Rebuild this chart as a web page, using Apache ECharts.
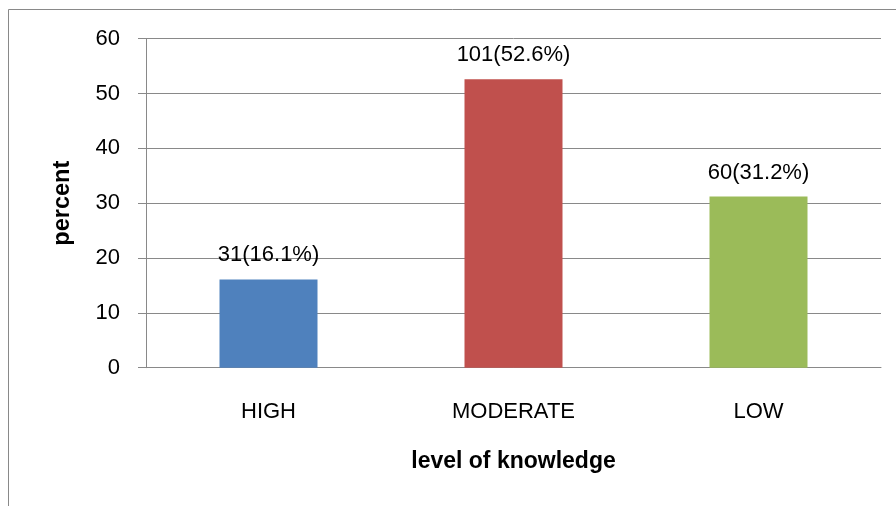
<!DOCTYPE html>
<html>
<head>
<meta charset="utf-8">
<script src="https://cdn.jsdelivr.net/npm/echarts@6/dist/echarts.min.js"></script>
<style>
html,body{margin:0;padding:0;background:#fff;}
#c{width:896px;height:506px;}
</style>
</head>
<body>
<div id="c"></div>
<script>
const categories = ['HIGH', 'MODERATE', 'LOW'];
const percents = [16.1, 52.6, 31.2];
const counts = [31, 101, 60];
const colors = ['#4F81BD', '#C0504D', '#9BBB59'];
const yTicks = { min: 0, max: 60, interval: 10 };

const chart = echarts.init(document.getElementById('c'), null, { renderer: 'canvas' });
const FONT = '"Liberation Sans", Arial, sans-serif';
const GRAY = '#898989';

chart.setOption({
  animation: false,
  backgroundColor: '#ffffff',
  graphic: [{
    type: 'rect',
    shape: { x: 8.5, y: 9.5, width: 1000, height: 1000 },
    style: { fill: 'none', stroke: GRAY, lineWidth: 1 },
    silent: true
  }],
  grid: { left: 146, right: 15, top: 38.7, bottom: 138.3 },
  xAxis: {
    type: 'category',
    data: categories,
    name: 'level of knowledge',
    nameLocation: 'middle',
    nameGap: 82,
    nameTextStyle: { fontFamily: FONT, fontSize: 23, fontWeight: 'bold', color: '#000' },
    axisLine: { lineStyle: { color: GRAY, width: 1 } },
    axisTick: { show: false },
    axisLabel: { fontFamily: FONT, fontSize: 22, color: '#000', margin: 33 }
  },
  yAxis: {
    type: 'value',
    min: yTicks.min, max: yTicks.max, interval: yTicks.interval,
    name: 'percent',
    nameLocation: 'middle',
    nameGap: 71,
    nameRotate: 90,
    nameTextStyle: { fontFamily: FONT, fontSize: 23.5, fontWeight: 'bold', color: '#000' },
    axisLine: { show: true, lineStyle: { color: GRAY, width: 1 } },
    axisTick: { show: true, length: 8, lineStyle: { color: GRAY } },
    splitLine: { lineStyle: { color: GRAY, width: 1 } },
    axisLabel: { fontFamily: FONT, fontSize: 22, color: '#000', margin: 26 }
  },
  series: [{
    type: 'bar',
    barWidth: '40%',
    data: percents.map((v, i) => ({ value: v, itemStyle: { color: colors[i] } })),
    label: {
      show: true,
      position: 'top',
      distance: 13,
      fontFamily: FONT,
      fontSize: 22,
      color: '#000',
      formatter: p => counts[p.dataIndex] + '(' + percents[p.dataIndex].toFixed(1) + '%)'
    }
  }]
});
</script>
</body>
</html>
